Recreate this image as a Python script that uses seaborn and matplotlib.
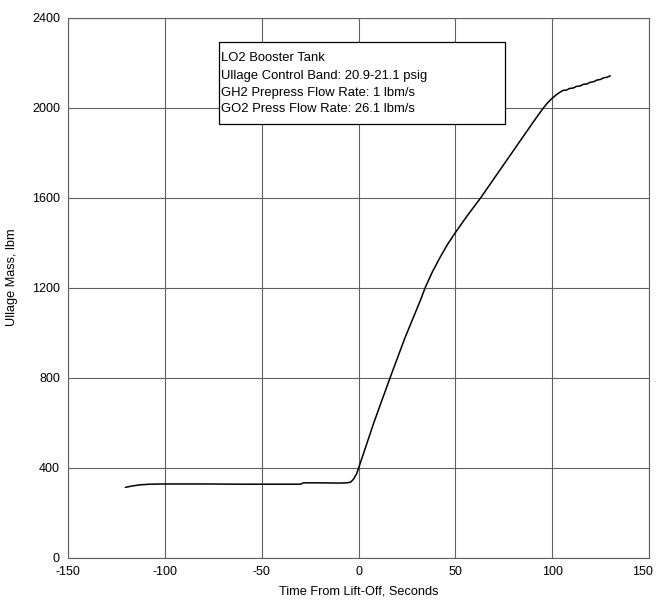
import numpy as np
import pandas as pd
import seaborn as sns
import matplotlib.pyplot as plt
import matplotlib.transforms as mtransforms
from matplotlib.patches import Rectangle

# time from lift-off (s) and ullage mass (lbm)
time_s = [-120.5, -117, -113, -108, -100, -80, -60, -40, -30, -28.5, -20, -10,
          -6, -4, -2.5, -1, 0, 8, 16.2, 24, 32, 34.3, 38, 42, 46, 49.8,
          56, 63, 70, 75, 80, 85, 90, 95.4, 97.5, 99.7, 102, 104,
          105.5, 107.5, 109, 111, 112.5, 114.5, 116, 118, 119.5, 121.5,
          123, 125, 126.5, 128.5, 130]
mass_lbm = [314, 320, 325, 328, 329, 329, 328, 328, 328, 334, 334, 333,
            334, 338, 352, 375, 400, 605, 800, 980, 1147, 1200, 1270, 1335, 1395, 1444,
            1520, 1600, 1687, 1749, 1811, 1873, 1935, 2000, 2022, 2041, 2058, 2070,
            2078, 2080, 2087, 2089, 2096, 2098, 2105, 2107, 2114, 2117,
            2124, 2127, 2134, 2137, 2143]

note_lines = ["LO2 Booster Tank",
              "Ullage Control Band: 20.9-21.1 psig",
              "GH2 Prepress Flow Rate: 1 lbm/s",
              "GO2 Press Flow Rate: 26.1 lbm/s"]

x_ticks = [-150, -100, -50, 0, 50, 100, 150]
y_ticks = [0, 400, 800, 1200, 1600, 2000, 2400]

df = pd.DataFrame({"time": time_s, "mass": mass_lbm})

sns.set_theme(style="whitegrid")
plt.rcParams["font.family"] = ["Liberation Sans", "DejaVu Sans"]
plt.rcParams["axes.unicode_minus"] = False

fig = plt.figure(figsize=(6.56, 6.02), dpi=100)
ax = fig.add_axes([0.1041, 0.0731, 0.8852, 0.897])

sns.lineplot(data=df, x="time", y="mass", color="black", linewidth=1.1, ax=ax)

ax.set_xlim(-150, 150)
ax.set_ylim(0, 2400)
ax.set_xticks(x_ticks)
ax.set_yticks(y_ticks)
ax.grid(True, color="#606060", linewidth=0.8)
for sp in ax.spines.values():
    sp.set_color("#606060")
    sp.set_linewidth(0.8)
ax.tick_params(axis="both", length=0, pad=6, labelsize=9, colors="black")
ax.set_xlabel("Time From Lift-Off, Seconds", fontsize=9.2, labelpad=5, color="black")
ax.set_ylabel("Ullage Mass, lbm", fontsize=9.2, color="black")
ax.yaxis.set_label_coords(-0.0866, 0.52)
ax.set_facecolor("white")

# keep the last x tick label inside the figure
last = ax.get_xticklabels()[-1]
last.set_transform(last.get_transform() +
                   mtransforms.ScaledTranslation(-5 / 72, 0, fig.dpi_scale_trans))

# annotation box
ax.add_patch(Rectangle((0.2595, 0.8037), 0.4925, 0.1519, transform=ax.transAxes,
                       facecolor="white", edgecolor="black", linewidth=0.9, zorder=5))
line_y = [0.926, 0.8926, 0.8617, 0.831]
for txt, yy in zip(note_lines, line_y):
    ax.text(0.2635, yy, txt, transform=ax.transAxes, fontsize=9.4, va="center",
            ha="left", color="black", zorder=6)

fig.savefig("out.png", dpi=100, facecolor="white")
